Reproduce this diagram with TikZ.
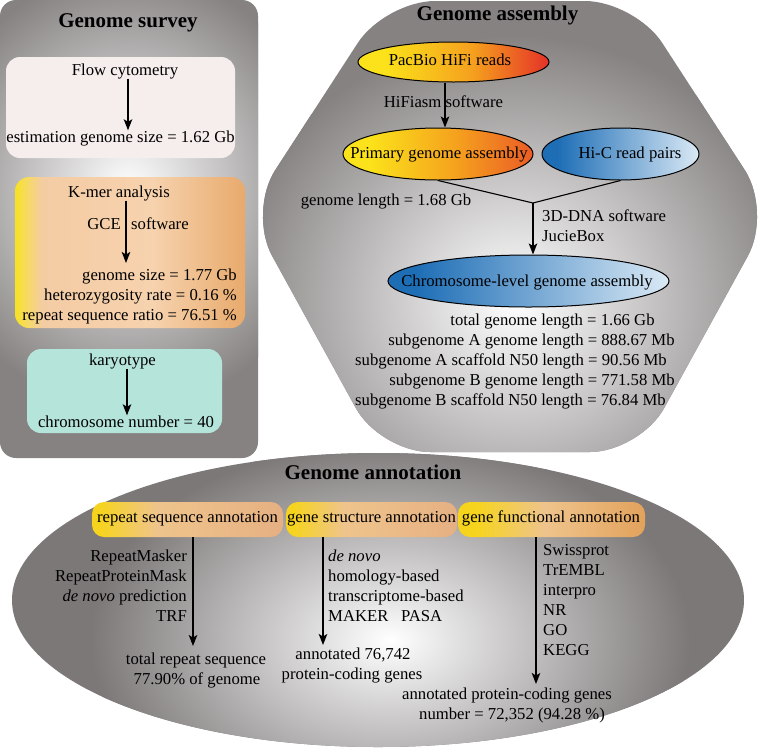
\documentclass[tikz,border=0pt]{standalone}
\usepackage{fontspec}
\setmainfont{Liberation Serif}
\usetikzlibrary{arrows.meta,shapes.geometric}

\definecolor{pgray}{RGB}{134,130,130}
\definecolor{egray}{RGB}{124,120,120}
\definecolor{flowpink}{RGB}{246,237,237}
\definecolor{karyo}{RGB}{181,228,219}
\definecolor{ky}{RGB}{247,226,30}
\definecolor{kpeach}{RGB}{246,210,174}
\definecolor{ktan}{RGB}{232,170,108}
\definecolor{py}{RGB}{251,226,26}
\definecolor{po}{RGB}{245,160,30}
\definecolor{pr}{RGB}{228,50,40}
\definecolor{prb}{RGB}{234,92,38}
\definecolor{bd}{RGB}{30,110,182}
\definecolor{bl}{RGB}{218,233,245}
\definecolor{ay}{RGB}{246,212,30}
\definecolor{apeach}{RGB}{239,196,140}
\definecolor{atan}{RGB}{230,176,130}
\definecolor{aor}{RGB}{226,162,92}

\pgfdeclarehorizontalshading{kmershade}{100bp}{color(0bp)=(ky); color(25bp)=(ky); color(27bp)=(ky!60!kpeach); color(31bp)=(kpeach!85!ktan); color(55bp)=(kpeach); color(75bp)=(ktan); color(100bp)=(ktan)}
\pgfdeclarehorizontalshading{pacshade}{100bp}{color(0bp)=(py); color(32bp)=(py); color(55bp)=(po); color(75bp)=(pr); color(100bp)=(pr)}
\pgfdeclarehorizontalshading{primshade}{100bp}{color(0bp)=(py); color(32bp)=(py); color(55bp)=(po); color(75bp)=(prb); color(100bp)=(prb)}
\pgfdeclarehorizontalshading{blueshade}{100bp}{color(0bp)=(bd); color(30bp)=(bd); color(75bp)=(bl); color(100bp)=(bl)}
\pgfdeclarehorizontalshading{pillA}{100bp}{color(0bp)=(ay); color(27bp)=(ay); color(42bp)=(apeach); color(75bp)=(atan); color(100bp)=(atan)}
\pgfdeclarehorizontalshading{pillB}{100bp}{color(0bp)=(ay); color(30bp)=(ay); color(48bp)=(apeach); color(75bp)=(aor); color(100bp)=(aor)}

\begin{document}
\begin{tikzpicture}[x=1pt,y=-1pt,font=\fontsize{16.7pt}{20pt}\selectfont,
  txt/.style={inner sep=0pt,text height=11.5pt,text depth=3.5pt},
  ttl/.style={txt,font=\fontsize{21pt}{24pt}\selectfont\bfseries},
  arr/.style={line width=1.3pt,-{Stealth[length=11pt,width=8.5pt,inset=2.5pt]}},
  box/.style={rectangle,rounded corners=14pt,inner sep=0pt},
  ell/.style={ellipse,draw=black,line width=1pt,inner sep=0pt},
  pill/.style={rectangle,rounded corners=12pt,inner sep=0pt,minimum height=35pt}]

\useasboundingbox (0,0) rectangle (760,753);
\fill[white] (0,0) rectangle (760,753);

% ---------------- Genome survey panel
\fill[pgray,rounded corners=16pt] (0,0) rectangle (258,458);
\begin{scope}
  \clip[rounded corners=16pt] (0,0) rectangle (258,458);
  \shade[inner color=white,outer color=pgray] (128,190) ellipse [x radius=200pt,y radius=220pt];
\end{scope}
\node[ttl] (ts) at (128,23) {Genome survey};

\node[box,fill=flowpink,minimum width=229pt,minimum height=101pt] (flowbox) at (120.5,107.5) {};
\node[txt] (fct) at (125,71) {Flow cytometry};
\node[txt] (fcr) at (120.5,138) {estimation genome size = 1.62 Gb};
\coordinate (fcx) at (128,0);
\draw[arr] (fct.south -| fcx) -- (fcr.north -| fcx);

\node[box,shade,shading=kmershade,minimum width=230pt,minimum height=151pt] (kbox) at (130,252.5) {};
\node[txt] (kt) at (119,193) {K-mer analysis};
\node[txt,anchor=east] (kg) at (121,225) {GCE};
\node[txt,anchor=west] (ks) at (131,225) {software};
\node[txt,anchor=east] (k1) at (237,276) {genome size = 1.77 Gb};
\node[txt,anchor=east] (k2) at (237,296) {heterozygosity rate = 0.16 \%};
\node[txt,anchor=east] (k3) at (237,316) {repeat sequence ratio = 76.51 \%};
\coordinate (kend) at (126,263);
\draw[arr] (kt.south -| kend) -- (kend);

\node[box,fill=karyo,minimum width=195pt,minimum height=84pt] (kabox) at (124.5,391) {};
\node[txt] (kat) at (122.5,361) {karyotype};
\node[txt] (kar) at (126,423) {chromosome number = 40};
\coordinate (kax) at (127,0);
\draw[arr] (kat.south -| kax) -- (kar.north -| kax);

% ---------------- Genome assembly panel
\fill[pgray,rounded corners=50pt] (385,1) -- (635,1) -- (772,212) -- (640,452) -- (380,452) -- (248,212) -- cycle;
\begin{scope}
  \clip[rounded corners=50pt] (385,1) -- (635,1) -- (772,212) -- (640,452) -- (380,452) -- (248,212) -- cycle;
  \shade[inner color=white,outer color=pgray] (515,300) ellipse [x radius=285pt,y radius=265pt];
\end{scope}
\node[ttl] (ta) at (497.5,16) {Genome assembly};

\node[ell,shade,shading=pacshade,minimum width=191pt,minimum height=40pt] (pac) at (453.5,62) {};
\node[txt] (pact) at (450,61) {PacBio HiFi reads};
\node[txt] (hifi) at (443.5,103) {HiFiasm software};
\node[ell,shade,shading=primshade,minimum width=190pt,minimum height=52pt] (prim) at (438,154) {};
\node[txt] (primt) at (439,154) {Primary genome assembly};
\node[ell,shade,shading=blueshade,minimum width=157pt,minimum height=52pt] (hic) at (620.5,154) {};
\node[txt] (hict) at (630,154) {Hi-C read pairs};
\coordinate (hx) at (445,0);
\draw[arr] (pac.south -| hx) -- (prim.north -| hx);

\node[txt] (glen) at (386,201) {genome length = 1.68 Gb};
\node[txt,anchor=west] (dna) at (542,217) {3D-DNA software};
\node[txt,anchor=west] (jbox) at (542,237) {JucieBox};

\node[ell,shade,shading=blueshade,minimum width=281pt,minimum height=52pt] (chrom) at (528.5,281) {};
\node[txt] (chromt) at (527,282) {Chromosome-level genome assembly};
\coordinate (junc) at (533,203);
\draw[line width=1.1pt] (prim.south) -- (junc) -- (hic.south);
\draw[arr] (junc) -- (junc |- chrom.north);

\node[txt] (s1) at (552.5,321) {total genome length = 1.66 Gb};
\node[txt] (s2) at (531.5,341) {subgenome A genome length = 888.67 Mb};
\node[txt] (s3) at (511,361) {subgenome A scaffold N50 length = 90.56 Mb};
\node[txt] (s4) at (532,381) {subgenome B genome length = 771.58 Mb};
\node[txt] (s5) at (510.5,401) {subgenome B scaffold N50 length = 76.84 Mb};

% ---------------- Genome annotation panel
\fill[egray] (378,600) ellipse [x radius=366pt,y radius=147pt];
\begin{scope}
  \clip (378,600) ellipse [x radius=366pt,y radius=147pt];
  \shade[inner color=white,outer color=egray] (390,640) ellipse [x radius=300pt,y radius=200pt];
\end{scope}
\node[ttl] (tn) at (373,475) {Genome annotation};

\node[pill,shade,shading=pillA,minimum width=191pt] (p1) at (187.5,519.5) {};
\node[pill,shade,shading=pillA,minimum width=171pt] (p2) at (371.5,519.5) {};
\node[pill,shade,shading=pillB,minimum width=187pt] (p3) at (551.5,519.5) {};
\node[txt] (p1t) at (187.5,518) {repeat sequence annotation};
\node[txt] (p2t) at (371.5,518) {gene structure annotation};
\node[txt] (p3t) at (551,518) {gene functional annotation};

\coordinate (a1e) at (193,646);
\draw[arr] (p1.south -| a1e) -- (a1e);
\node[txt,anchor=east] (r1) at (187,557) {RepeatMasker};
\node[txt,anchor=east] (r2) at (187,577) {RepeatProteinMask};
\node[txt,anchor=east] (r3) at (187,597) {\textit{de novo} prediction};
\node[txt,anchor=east] (r4) at (187,617) {TRF};
\node[txt] (r5) at (196,660) {total repeat sequence};
\node[txt] (r6) at (197,680) {77.90\% of genome};

\coordinate (a2e) at (323,645);
\draw[arr] (p2.south -| a2e) -- (a2e);
\node[txt,anchor=west] (g1) at (328,557) {\textit{de novo}};
\node[txt,anchor=west] (g2) at (328,577) {homology-based};
\node[txt,anchor=west] (g3) at (328,597) {transcriptome-based};
\node[txt,anchor=west] (g4) at (328,617) {MAKER\hspace{0.75em}PASA};
\node[txt] (g5) at (353,655) {annotated 76,742};
\node[txt] (g6) at (352,675) {protein-coding genes};

\coordinate (a3e) at (536,684);
\draw[arr] (p3.south -| a3e) -- (a3e);
\node[txt,anchor=west] (f1) at (543,551) {Swissprot};
\node[txt,anchor=west] (f2) at (543,571) {TrEMBL};
\node[txt,anchor=west] (f3) at (543,591) {interpro};
\node[txt,anchor=west] (f4) at (543,611) {NR};
\node[txt,anchor=west] (f5) at (543,631) {GO};
\node[txt,anchor=west] (f6) at (543,651) {KEGG};
\node[txt] (f7) at (507,695) {annotated protein-coding genes};
\node[txt] (f8) at (512,715) {number = 72,352 (94.28 \%)};
\end{tikzpicture}
\end{document}
